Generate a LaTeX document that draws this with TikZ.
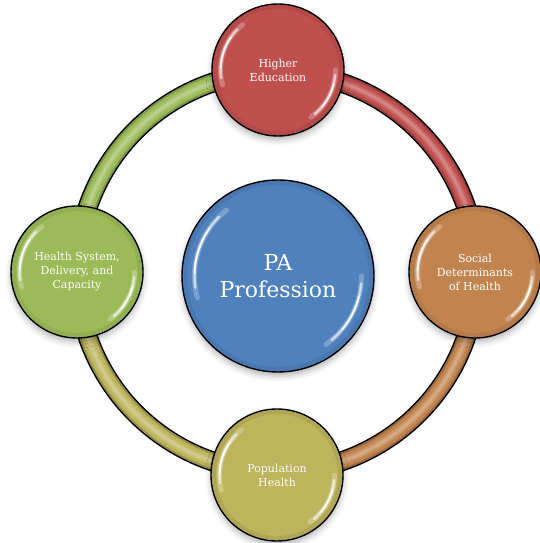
\documentclass[tikz,border=0pt]{standalone}
\usepackage{fontspec}
\setmainfont{DejaVu Serif}
\usetikzlibrary{shadows.blur}
\definecolor{cred}{HTML}{C0504D}
\definecolor{corange}{HTML}{C2844F}
\definecolor{colive}{HTML}{BDB45C}
\definecolor{cgreen}{HTML}{9BBB59}
\definecolor{cblue}{HTML}{4F81BD}
\tikzset{
  bubble/.style={circle, draw=black, line width=1.4pt, text=white, align=center,
    inner sep=0pt, minimum size=132pt,
    blur shadow={shadow xshift=0pt, shadow yshift=-4pt, shadow blur radius=6pt, shadow opacity=30}},
  hlwide/.style={white, line width=5pt, opacity=0.25, line cap=round},
  hlmid/.style={white, line width=2.5pt, opacity=0.6, line cap=round},
  hlthin/.style={white, line width=1.5pt, opacity=0.95, line cap=round},
  label/.style={text=white, align=center, font=\fontsize{11}{14}\selectfont},
}
\newcommand\tube[3]{%
  \draw[line width=20pt, black] ([shift={(#2:200)}]C) arc[start angle=#2, end angle=#3, radius=200];
  \draw[line width=17pt, #1!80!black] ([shift={(#2:200)}]C) arc[start angle=#2, end angle=#3, radius=200];
  \draw[line width=13pt, #1] ([shift={(#2:200)}]C) arc[start angle=#2, end angle=#3, radius=200];
  \draw[line width=7pt, #1!85!white] ([shift={(#2:200)}]C) arc[start angle=#2, end angle=#3, radius=200];
  \draw[line width=3pt, #1!70!white] ([shift={(#2:200)}]C) arc[start angle=#2, end angle=#3, radius=200];
}
\newcommand\garc[5]{% style, node, radius, start, end
  \draw[#1] ([shift={(#4:#3*0.87)}]#2.center) arc[start angle=#4, end angle=#5, radius=#3*0.87];
}
\newcommand\gloss[3]{% node, radius, color
  \draw[#3!80!black, line width=4pt, opacity=0.35] (#1.center) circle[radius=#2-3];
  \garc{hlwide}{#1}{#2}{128}{195}
  \garc{hlmid}{#1}{#2}{135}{188}
  \garc{hlthin}{#1}{#2}{145}{178}
  \garc{hlwide}{#1}{#2}{0}{-55}
  \garc{hlmid}{#1}{#2}{-5}{-50}
  \garc{hlthin}{#1}{#2}{-14}{-40}
}
\begin{document}
\begin{tikzpicture}[x=1pt, y=1pt]
\useasboundingbox (0,0) rectangle (540,543);
\coordinate (C) at (277,271);
\tube{cgreen}{180}{90}
\tube{cred}{90}{0}
\tube{corange}{0}{-90}
\tube{colive}{-90}{-180}
\node[bubble, fill=cred] (top) at (278,473) {};
\node[bubble, fill=corange] (right) at (475,271) {};
\node[bubble, fill=colive] (bottom) at (277,68) {};
\node[bubble, fill=cgreen] (left) at (77,271) {};
\node[bubble, fill=cblue, minimum size=192pt] (mid) at (278,267) {};
\gloss{top}{66}{cred}
\gloss{right}{66}{corange}
\gloss{bottom}{66}{colive}
\gloss{left}{66}{cgreen}
\gloss{mid}{96}{cblue}
\node[label] (t1) at (top) {Higher\\Education};
\node[label] (t2) at (right) {Social\\Determinants\\of Health};
\node[label] (t3) at (bottom) {Population\\Health};
\node[label] (t4) at (left) {Health System,\\Delivery, and\\Capacity};
\node[label, font=\fontsize{22}{27}\selectfont] (t5) at (mid) {PA\\Profession};
\end{tikzpicture}
\end{document}
